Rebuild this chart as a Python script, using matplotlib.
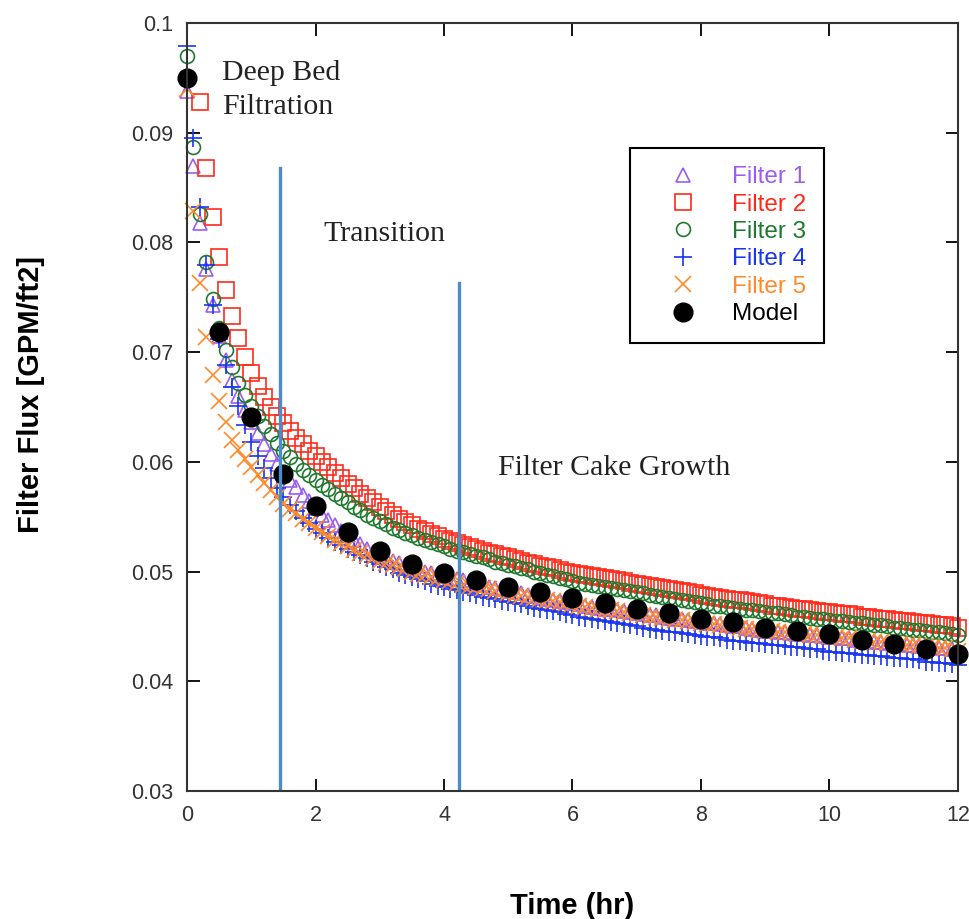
import numpy as np
import matplotlib
matplotlib.use('Agg')
import matplotlib.pyplot as plt

plt.rcParams['font.family'] = ['Liberation Sans', 'DejaVu Sans']

# donnees (flux en GPM/ft2, un point toutes les 0.1 h)
dt = 0.1
filter1 = [0.0938, 0.0870, 0.0818, 0.0776, 0.0743, 0.0715, 0.0693, 0.0675, 0.0660, 0.0647,
           0.0636, 0.0626, 0.0616, 0.0607, 0.0598, 0.0590, 0.0583, 0.0577, 0.0570, 0.0564,
           0.0558, 0.0552, 0.0547, 0.0542, 0.0537, 0.0533, 0.0529, 0.0525, 0.0521, 0.0518,
           0.0515, 0.0512, 0.0510, 0.0508, 0.0506, 0.0504, 0.0502, 0.0500, 0.0499, 0.0497,
           0.0496, 0.0494, 0.0493, 0.0492, 0.0490, 0.0489, 0.0488, 0.0486, 0.0485, 0.0484,
           0.0482, 0.0481, 0.0480, 0.0479, 0.0478, 0.0476, 0.0475, 0.0474, 0.0473, 0.0472,
           0.0471, 0.0470, 0.0469, 0.0468, 0.0467, 0.0466, 0.0466, 0.0465, 0.0464, 0.0463,
           0.0462, 0.0461, 0.0460, 0.0460, 0.0459, 0.0458, 0.0457, 0.0457, 0.0456, 0.0455,
           0.0454, 0.0453, 0.0453, 0.0452, 0.0451, 0.0450, 0.0450, 0.0449, 0.0448, 0.0447,
           0.0446, 0.0446, 0.0445, 0.0445, 0.0444, 0.0443, 0.0443, 0.0442, 0.0442, 0.0441,
           0.0440, 0.0440, 0.0439, 0.0439, 0.0438, 0.0437, 0.0437, 0.0436, 0.0436, 0.0435,
           0.0434, 0.0434, 0.0433, 0.0433, 0.0432, 0.0432, 0.0431, 0.0430, 0.0430, 0.0429,
           0.0428]
# filtre 2 commence a 0.2 h
filter2_start = 0.2
filter2 = [0.0928, 0.0868, 0.0823, 0.0787, 0.0757, 0.0733, 0.0713, 0.0696,
           0.0681, 0.0669, 0.0659, 0.0650, 0.0642, 0.0635, 0.0628, 0.0622, 0.0616, 0.0610,
           0.0605, 0.0600, 0.0595, 0.0590, 0.0585, 0.0580, 0.0576, 0.0571, 0.0567, 0.0563,
           0.0559, 0.0555, 0.0552, 0.0548, 0.0545, 0.0542, 0.0539, 0.0537, 0.0534, 0.0532,
           0.0530, 0.0528, 0.0526, 0.0524, 0.0522, 0.0521, 0.0519, 0.0517, 0.0516, 0.0514,
           0.0513, 0.0511, 0.0510, 0.0508, 0.0507, 0.0505, 0.0504, 0.0503, 0.0501, 0.0500,
           0.0499, 0.0498, 0.0497, 0.0496, 0.0495, 0.0494, 0.0493, 0.0492, 0.0491, 0.0490,
           0.0489, 0.0488, 0.0487, 0.0486, 0.0485, 0.0484, 0.0483, 0.0482, 0.0481, 0.0480,
           0.0479, 0.0478, 0.0477, 0.0476, 0.0475, 0.0474, 0.0474, 0.0473, 0.0472, 0.0471,
           0.0470, 0.0469, 0.0469, 0.0468, 0.0467, 0.0466, 0.0466, 0.0465, 0.0464, 0.0463,
           0.0463, 0.0462, 0.0461, 0.0461, 0.0460, 0.0459, 0.0459, 0.0458, 0.0457, 0.0457,
           0.0456, 0.0455, 0.0455, 0.0454, 0.0453, 0.0453, 0.0452, 0.0451, 0.0451, 0.0450,
           0.0449]
filter3 = [0.0970, 0.0887, 0.0826, 0.0782, 0.0748, 0.0722, 0.0702, 0.0686, 0.0672, 0.0661,
           0.0651, 0.0642, 0.0633, 0.0625, 0.0617, 0.0610, 0.0604, 0.0598, 0.0593, 0.0588,
           0.0583, 0.0579, 0.0575, 0.0571, 0.0567, 0.0563, 0.0559, 0.0556, 0.0552, 0.0549,
           0.0546, 0.0543, 0.0540, 0.0538, 0.0535, 0.0533, 0.0531, 0.0529, 0.0527, 0.0525,
           0.0523, 0.0521, 0.0519, 0.0518, 0.0516, 0.0514, 0.0513, 0.0511, 0.0509, 0.0508,
           0.0506, 0.0505, 0.0503, 0.0502, 0.0500, 0.0499, 0.0497, 0.0496, 0.0494, 0.0493,
           0.0491, 0.0490, 0.0489, 0.0488, 0.0487, 0.0486, 0.0485, 0.0484, 0.0483, 0.0482,
           0.0481, 0.0480, 0.0479, 0.0478, 0.0477, 0.0476, 0.0475, 0.0474, 0.0473, 0.0472,
           0.0471, 0.0470, 0.0469, 0.0469, 0.0468, 0.0467, 0.0466, 0.0465, 0.0465, 0.0464,
           0.0463, 0.0462, 0.0462, 0.0461, 0.0460, 0.0459, 0.0459, 0.0458, 0.0457, 0.0457,
           0.0456, 0.0455, 0.0455, 0.0454, 0.0453, 0.0453, 0.0452, 0.0451, 0.0451, 0.0450,
           0.0449, 0.0449, 0.0448, 0.0447, 0.0447, 0.0446, 0.0445, 0.0445, 0.0444, 0.0443,
           0.0442]
filter4 = [0.0979, 0.0895, 0.0832, 0.0779, 0.0743, 0.0712, 0.0688, 0.0668, 0.0651, 0.0634,
           0.0618, 0.0605, 0.0594, 0.0585, 0.0576, 0.0568, 0.0561, 0.0555, 0.0549, 0.0544,
           0.0539, 0.0535, 0.0531, 0.0527, 0.0524, 0.0521, 0.0518, 0.0515, 0.0512, 0.0509,
           0.0507, 0.0504, 0.0502, 0.0499, 0.0497, 0.0495, 0.0493, 0.0491, 0.0489, 0.0487,
           0.0486, 0.0484, 0.0483, 0.0481, 0.0480, 0.0479, 0.0477, 0.0476, 0.0475, 0.0473,
           0.0472, 0.0471, 0.0470, 0.0469, 0.0467, 0.0466, 0.0465, 0.0464, 0.0463, 0.0461,
           0.0460, 0.0459, 0.0458, 0.0457, 0.0456, 0.0455, 0.0454, 0.0453, 0.0452, 0.0451,
           0.0450, 0.0449, 0.0448, 0.0447, 0.0446, 0.0445, 0.0445, 0.0444, 0.0443, 0.0442,
           0.0441, 0.0440, 0.0440, 0.0439, 0.0438, 0.0437, 0.0437, 0.0436, 0.0435, 0.0435,
           0.0434, 0.0433, 0.0433, 0.0432, 0.0431, 0.0431, 0.0430, 0.0429, 0.0429, 0.0428,
           0.0427, 0.0427, 0.0426, 0.0426, 0.0425, 0.0424, 0.0424, 0.0423, 0.0423, 0.0422,
           0.0421, 0.0421, 0.0420, 0.0420, 0.0419, 0.0418, 0.0418, 0.0417, 0.0417, 0.0416,
           0.0415]
filter5 = [0.0940, 0.0829, 0.0763, 0.0714, 0.0679, 0.0655, 0.0636, 0.0620, 0.0611, 0.0603,
           0.0595, 0.0588, 0.0581, 0.0574, 0.0568, 0.0562, 0.0557, 0.0553, 0.0548, 0.0544,
           0.0540, 0.0536, 0.0532, 0.0529, 0.0526, 0.0523, 0.0520, 0.0517, 0.0515, 0.0512,
           0.0510, 0.0508, 0.0506, 0.0504, 0.0502, 0.0500, 0.0498, 0.0497, 0.0495, 0.0494,
           0.0492, 0.0491, 0.0490, 0.0488, 0.0487, 0.0486, 0.0485, 0.0484, 0.0482, 0.0481,
           0.0480, 0.0479, 0.0478, 0.0477, 0.0476, 0.0475, 0.0474, 0.0473, 0.0472, 0.0471,
           0.0470, 0.0469, 0.0468, 0.0467, 0.0466, 0.0465, 0.0465, 0.0464, 0.0463, 0.0462,
           0.0461, 0.0460, 0.0459, 0.0459, 0.0458, 0.0457, 0.0456, 0.0456, 0.0455, 0.0454,
           0.0453, 0.0452, 0.0452, 0.0451, 0.0450, 0.0450, 0.0449, 0.0448, 0.0448, 0.0447,
           0.0446, 0.0446, 0.0445, 0.0445, 0.0444, 0.0443, 0.0443, 0.0442, 0.0442, 0.0441,
           0.0440, 0.0440, 0.0439, 0.0439, 0.0438, 0.0437, 0.0437, 0.0436, 0.0436, 0.0435,
           0.0434, 0.0434, 0.0433, 0.0433, 0.0432, 0.0432, 0.0431, 0.0430, 0.0430, 0.0429,
           0.0428]

model_t = [0, 0.5, 1, 1.5, 2, 2.5, 3, 3.5, 4, 4.5, 5, 5.5, 6, 6.5, 7, 7.5, 8, 8.5, 9, 9.5,
           10, 10.5, 11, 11.5, 12]
model = [0.0950, 0.0718, 0.0641, 0.0589, 0.0560, 0.0536, 0.0519, 0.0507, 0.0499, 0.0492,
         0.0486, 0.0481, 0.0476, 0.0471, 0.0466, 0.0462, 0.0457, 0.0454, 0.0449, 0.0446,
         0.0443, 0.0438, 0.0434, 0.0429, 0.0425]

# limites des regimes
stage_x = [1.45, 4.23]
stage_top = [0.0868, 0.0763]

y_ticks = [0.03, 0.04, 0.05, 0.06, 0.07, 0.08, 0.09, 0.1]
y_tick_labels = ['0.03', '0.04', '0.05', '0.06', '0.07', '0.08', '0.09', '0.1']
x_ticks = [0, 2, 4, 6, 8, 10, 12]

t_f = np.arange(len(filter1)) * dt
t_f2 = filter2_start + np.arange(len(filter2)) * dt

# figure
fig = plt.figure(figsize=(9.7, 9.19), dpi=100)
ax = fig.add_axes([0.1928, 0.1393, 0.7948, 0.8357])

series = [
    (t_f, filter1, '^', '#9b5cf0', 10.5, 'Filter 1'),
    (t_f2, filter2, 's', '#ff2a1a', 11, 'Filter 2'),
    (t_f, filter3, 'o', '#1f7a30', 10, 'Filter 3'),
    (t_f, filter4, '+', '#1a35f0', 13, 'Filter 4'),
    (t_f, filter5, 'x', '#ff8a2a', 11, 'Filter 5'),
]
for t, y, m, c, ms, lab in series:
    ax.plot(t, y, linestyle='none', marker=m, markersize=ms, markerfacecolor='none',
            markeredgecolor=c, markeredgewidth=1.2, label=lab, clip_on=False)
ax.plot(model_t, model, linestyle='none', marker='o', markersize=13.5,
        markerfacecolor='black', markeredgecolor='black', label='Model', clip_on=False)

for x, top in zip(stage_x, stage_top):
    ax.plot([x, x], [0.03, top], color='#4f8ac9', linewidth=2.4)

# textes
serif = ['Liberation Serif', 'DejaVu Serif']
ax.text(0.545, 0.0954, 'Deep Bed', family=serif, fontsize=21.5, color='#222222', va='center')
ax.text(0.545, 0.0923, 'Filtration', family=serif, fontsize=21.5, color='#222222', va='center')
ax.text(2.12, 0.0808, 'Transition', family=serif, fontsize=21.5, color='#222222', va='center')
ax.text(4.84, 0.0594, 'Filter Cake Growth', family=serif, fontsize=21.5, color='#222222',
        va='center')

# axes
ax.set_xlim(0, 12)
ax.set_ylim(0.03, 0.1)
ax.set_xticks(x_ticks)
ax.set_yticks(y_ticks)
ax.set_yticklabels(y_tick_labels)
ax.tick_params(direction='in', length=9, width=1.3, top=True, right=True,
               labelsize=15.5, labelcolor='#333333', pad=10)
for s in ax.spines.values():
    s.set_linewidth(1.5)
    s.set_color('#333333')

ax.set_xlabel('Time (hr)', fontsize=21, fontweight='bold')
ax.set_ylabel('Filter Flux [GPM/ft2]', fontsize=21, fontweight='bold')
ax.xaxis.set_label_coords(0.5, -0.131)
ax.yaxis.set_label_coords(-0.184, 0.516)

leg = ax.legend(loc='upper left', bbox_to_anchor=(0.6495, 0.839),
                bbox_transform=fig.transFigure, fontsize=17.5, labelcolor='markeredgecolor',
                frameon=True, fancybox=False, edgecolor='black', framealpha=1,
                handletextpad=0.55, borderpad=0.75, labelspacing=0.22, handlelength=2.9,
                borderaxespad=0)
leg.get_frame().set_linewidth(1.5)

fig.savefig('out.png', dpi=100)
